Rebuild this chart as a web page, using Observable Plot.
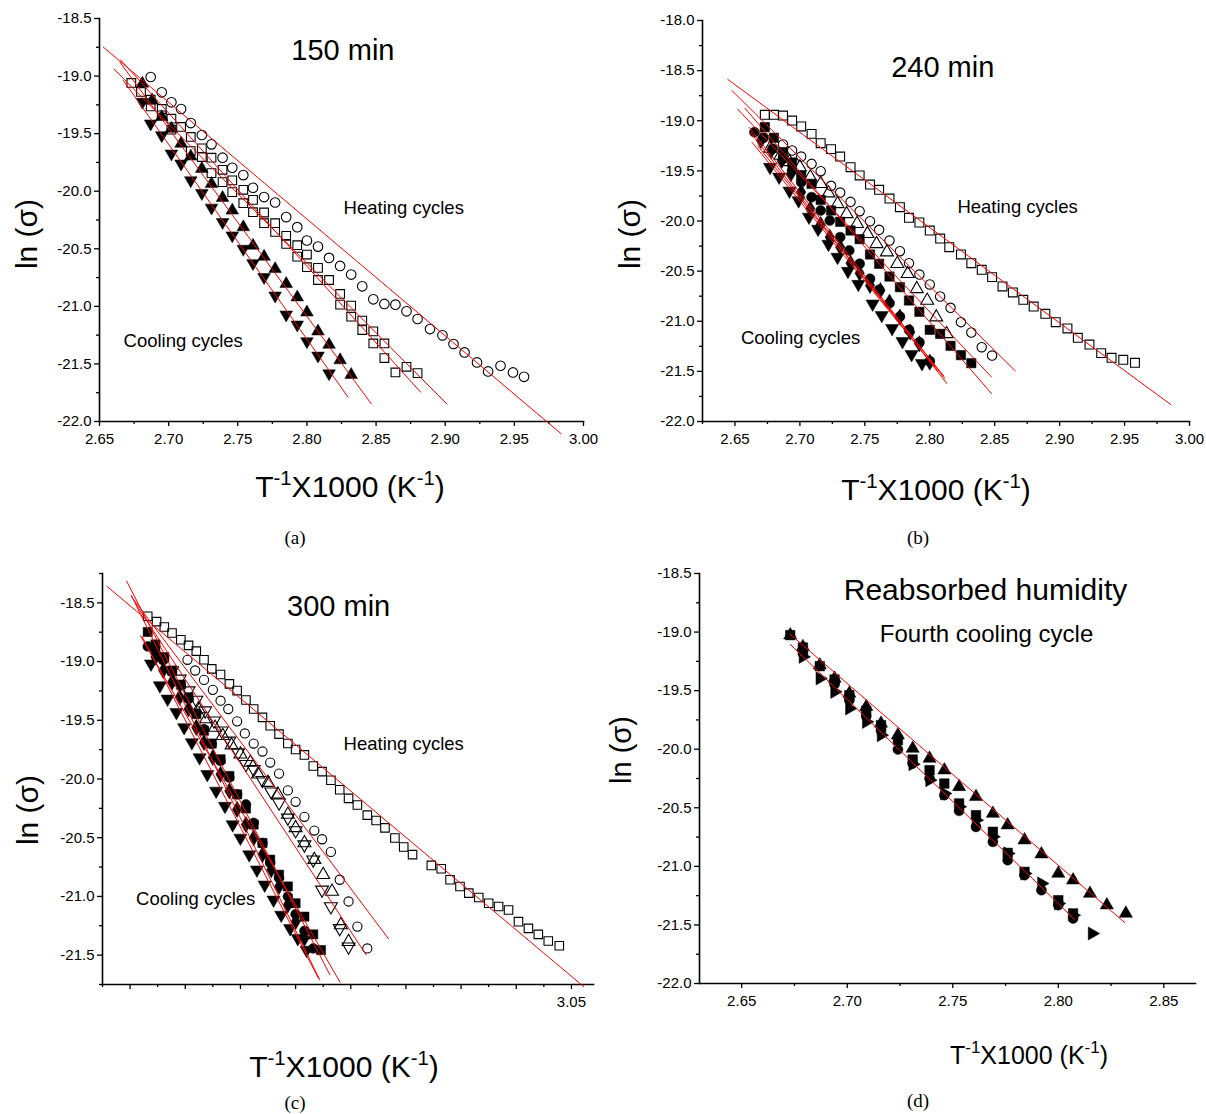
<!DOCTYPE html>
<html><head><meta charset="utf-8">
<script src="https://cdn.jsdelivr.net/npm/d3@7"></script>
<script src="https://cdn.jsdelivr.net/npm/@observablehq/plot@0.6"></script>
<style>
body{margin:0;background:#fff;}
#fig{position:relative;width:1206px;height:1114px;background:#fff;font-family:"Liberation Sans",Arial,sans-serif;color:#000;overflow:hidden;}
.panel{position:absolute;}
.panel svg{max-width:none !important;overflow:visible;}
.xt{position:absolute;transform:translate(-50%,-50%);white-space:nowrap;font-size:30px;line-height:1;}
.xt sup{font-size:0.68em;vertical-align:0.6em;line-height:0;}
.yt{position:absolute;transform:translate(-50%,-50%) rotate(-90deg);white-space:nowrap;font-size:30px;line-height:1;}
.cap{position:absolute;transform:translate(-50%,-50%);font-family:"Liberation Serif","Times New Roman",serif;font-size:19px;line-height:1;}
</style></head>
<body><div id="fig"></div>
<script>
// ---------- Panel (a) 150 min ----------
const aHeatCircle = [[2.687,-19.008],[2.695,-19.141],[2.702,-19.228],[2.709,-19.286],[2.716,-19.408],[2.724,-19.512],[2.731,-19.593],[2.739,-19.709],[2.746,-19.796],[2.754,-19.860],[2.761,-19.970],[2.769,-20.051],[2.777,-20.098],[2.785,-20.225],[2.793,-20.312],[2.800,-20.428],[2.808,-20.481],[2.816,-20.579],[2.824,-20.649],[2.832,-20.724],[2.840,-20.826],[2.848,-20.939],[2.856,-20.979],[2.864,-20.985],[2.872,-21.043],[2.880,-21.110],[2.889,-21.197],[2.898,-21.252],[2.906,-21.327],[2.914,-21.400],[2.923,-21.487],[2.931,-21.565],[2.940,-21.516],[2.949,-21.574],[2.957,-21.612]];
const aHeatSquare1 = [[2.673,-19.060],[2.680,-19.138],[2.687,-19.205],[2.695,-19.286],[2.702,-19.370],[2.709,-19.442],[2.716,-19.529],[2.724,-19.628],[2.731,-19.709],[2.739,-19.814],[2.746,-19.906],[2.754,-19.988],[2.761,-20.075],[2.769,-20.185],[2.777,-20.278],[2.785,-20.388],[2.793,-20.469],[2.800,-20.550],[2.808,-20.666],[2.816,-20.771],[2.824,-20.892],[2.832,-20.994],[2.840,-21.124],[2.848,-21.217],[2.856,-21.322],[2.872,-21.525],[2.880,-21.580]];
const aHeatSquare2 = [[2.687,-19.263],[2.695,-19.341],[2.702,-19.466],[2.716,-19.651],[2.724,-19.703],[2.731,-19.843],[2.739,-19.921],[2.746,-20.008],[2.754,-20.104],[2.761,-20.182],[2.769,-20.278],[2.777,-20.353],[2.785,-20.457],[2.793,-20.568],[2.800,-20.660],[2.808,-20.771],[2.824,-20.985],[2.832,-21.090],[2.840,-21.206],[2.848,-21.322],[2.856,-21.449],[2.864,-21.574]];
const aCoolUp = [[2.681,-19.065],[2.688,-19.210],[2.695,-19.355],[2.702,-19.457],[2.709,-19.587],[2.716,-19.698],[2.724,-19.805],[2.731,-19.935],[2.739,-20.057],[2.746,-20.167],[2.754,-20.312],[2.761,-20.472],[2.769,-20.568],[2.777,-20.675],[2.785,-20.805],[2.793,-20.921],[2.800,-21.052],[2.808,-21.217],[2.816,-21.333],[2.824,-21.467],[2.832,-21.594]];
const aCoolDown = [[2.681,-19.225],[2.687,-19.413],[2.695,-19.515],[2.702,-19.674],[2.709,-19.761],[2.716,-19.906],[2.724,-20.017],[2.731,-20.144],[2.739,-20.269],[2.746,-20.385],[2.754,-20.501],[2.761,-20.626],[2.769,-20.747],[2.777,-20.907],[2.785,-21.072],[2.793,-21.159],[2.800,-21.304],[2.808,-21.429],[2.816,-21.583]];
const aFits = [[2.6525,-18.746,2.9842,-22.110],[2.6601,-18.935,2.9013,-21.849],[2.6651,-18.857,2.8824,-21.748],[2.6646,-18.877,2.8467,-21.849],[2.6671,-19.036,2.8299,-21.791]];
const aNotes = [{x:2.826,y:-18.78,t:"150 min",k:"title"},{x:2.870,y:-20.15,t:"Heating cycles",k:"note"},{x:2.7105,y:-21.30,t:"Cooling cycles",k:"note"}];
const aXMajor = [2.65,2.70,2.75,2.80,2.85,2.90,2.95,3.00];
const aXMinor = [2.675,2.725,2.775,2.825,2.875,2.925,2.975];
const aYMajor = [-18.5,-19.0,-19.5,-20.0,-20.5,-21.0,-21.5,-22.0];
const aYMinor = [-18.75,-19.25,-19.75,-20.25,-20.75,-21.25,-21.75];

// ---------- Panel (b) 240 min ----------
const bHeatSquare = [[2.673,-18.941],[2.680,-18.941],[2.687,-18.948],[2.694,-18.998],[2.701,-19.057],[2.709,-19.131],[2.716,-19.224],[2.724,-19.283],[2.731,-19.357],[2.739,-19.463],[2.746,-19.546],[2.754,-19.636],[2.761,-19.689],[2.769,-19.776],[2.777,-19.862],[2.784,-19.968],[2.792,-20.015],[2.800,-20.095],[2.808,-20.175],[2.815,-20.261],[2.824,-20.334],[2.832,-20.421],[2.840,-20.487],[2.848,-20.560],[2.856,-20.653],[2.864,-20.713],[2.872,-20.786],[2.880,-20.853],[2.889,-20.926],[2.897,-21.009],[2.906,-21.072],[2.914,-21.165],[2.923,-21.232],[2.932,-21.318],[2.940,-21.365],[2.949,-21.385],[2.958,-21.415]];
const bHeatCircle = [[2.687,-19.237],[2.694,-19.297],[2.701,-19.357],[2.709,-19.430],[2.716,-19.503],[2.724,-19.649],[2.731,-19.716],[2.739,-19.809],[2.746,-19.902],[2.754,-20.002],[2.761,-20.088],[2.769,-20.195],[2.777,-20.301],[2.784,-20.421],[2.792,-20.534],[2.800,-20.633],[2.808,-20.753],[2.816,-20.866],[2.824,-21.009],[2.832,-21.112],[2.840,-21.259],[2.848,-21.342]];
const bHeatTriangle = [[2.677,-19.277],[2.685,-19.347],[2.692,-19.410],[2.700,-19.463],[2.708,-19.563],[2.716,-19.629],[2.722,-19.722],[2.729,-19.829],[2.736,-19.929],[2.744,-20.028],[2.752,-20.128],[2.759,-20.228],[2.767,-20.311],[2.775,-20.427],[2.783,-20.527],[2.790,-20.677],[2.798,-20.793],[2.805,-20.959],[2.813,-21.126]];
const bCoolSquare = [[2.673,-19.064],[2.680,-19.170],[2.687,-19.313],[2.694,-19.416],[2.701,-19.549],[2.709,-19.629],[2.716,-19.789],[2.724,-19.895],[2.731,-20.008],[2.739,-20.095],[2.746,-20.181],[2.754,-20.334],[2.761,-20.427],[2.769,-20.554],[2.777,-20.660],[2.784,-20.793],[2.792,-20.906],[2.800,-21.086],[2.808,-21.126],[2.816,-21.245],[2.824,-21.338],[2.832,-21.418]];
const bCoolCircle = [[2.665,-19.114],[2.672,-19.170],[2.679,-19.280],[2.687,-19.380],[2.694,-19.496],[2.701,-19.613],[2.709,-19.762],[2.716,-19.895],[2.723,-19.995],[2.731,-20.161],[2.738,-20.294],[2.746,-20.427],[2.754,-20.577],[2.761,-20.687],[2.769,-20.820],[2.777,-20.953],[2.784,-21.086],[2.792,-21.209],[2.800,-21.398]];
const bCoolDown = [[2.677,-19.463],[2.684,-19.560],[2.692,-19.700],[2.699,-19.796],[2.707,-19.960],[2.714,-20.080],[2.722,-20.230],[2.729,-20.360],[2.737,-20.500],[2.745,-20.630],[2.756,-20.826],[2.763,-20.940],[2.771,-21.070],[2.779,-21.200],[2.786,-21.330],[2.794,-21.420]];
const bCoolDiamond = [[2.670,-19.197],[2.678,-19.297],[2.686,-19.397],[2.693,-19.530],[2.701,-19.712],[2.708,-19.879],[2.716,-20.035],[2.723,-20.161],[2.731,-20.261],[2.739,-20.421],[2.746,-20.520],[2.754,-20.643],[2.762,-20.693],[2.769,-20.810],[2.777,-20.959],[2.785,-21.109],[2.792,-21.225],[2.800,-21.408]];
const bFits = [[2.6442,-18.585,2.9859,-21.834],[2.6476,-18.698,2.8661,-21.498],[2.6518,-18.881,2.8477,-21.558],[2.6574,-18.871,2.8477,-21.724],[2.6608,-19.064,2.8117,-21.574],[2.6617,-19.114,2.8133,-21.624],[2.6673,-19.247,2.8111,-21.551],[2.6631,-19.214,2.8060,-21.491]];
const bNotes = [{x:2.810,y:-18.47,t:"240 min",k:"title"},{x:2.8676,y:-19.865,t:"Heating cycles",k:"note"},{x:2.7005,y:-21.17,t:"Cooling cycles",k:"note"}];
const bXMajor = [2.65,2.70,2.75,2.80,2.85,2.90,2.95,3.00];
const bXMinor = [2.625,2.675,2.725,2.775,2.825,2.875,2.925,2.975];
const bYMajor = [-18.0,-18.5,-19.0,-19.5,-20.0,-20.5,-21.0,-21.5,-22.0];
const bYMinor = [-18.25,-18.75,-19.25,-19.75,-20.25,-20.75,-21.25,-21.75];

// ---------- Panel (c) 300 min ----------
const cHeatSquare = [[2.666,-18.614],[2.674,-18.660],[2.681,-18.705],[2.688,-18.757],[2.696,-18.814],[2.703,-18.862],[2.710,-18.911],[2.717,-18.985],[2.724,-19.062],[2.732,-19.110],[2.740,-19.190],[2.747,-19.247],[2.755,-19.327],[2.762,-19.404],[2.770,-19.475],[2.777,-19.546],[2.785,-19.618],[2.793,-19.698],[2.800,-19.749],[2.808,-19.795],[2.816,-19.889],[2.824,-19.937],[2.832,-20.011],[2.840,-20.091],[2.848,-20.165],[2.856,-20.222],[2.865,-20.308],[2.873,-20.353],[2.881,-20.416],[2.890,-20.502],[2.898,-20.579],[2.906,-20.644],[2.923,-20.736],[2.932,-20.764],[2.940,-20.858],[2.949,-20.915],[2.957,-20.972],[2.966,-21.009],[2.975,-21.058],[2.984,-21.086],[2.993,-21.115],[3.002,-21.215],[3.011,-21.272],[3.020,-21.323],[3.029,-21.380],[3.039,-21.420]];
const cHeatCircle = [[2.702,-18.985],[2.709,-19.076],[2.717,-19.156],[2.725,-19.241],[2.732,-19.333],[2.739,-19.404],[2.747,-19.509],[2.754,-19.612],[2.762,-19.698],[2.770,-19.766],[2.777,-19.860],[2.785,-19.954],[2.793,-20.097],[2.800,-20.194],[2.808,-20.322],[2.817,-20.439],[2.824,-20.513],[2.832,-20.621],[2.840,-20.858],[2.848,-21.043],[2.856,-21.257],[2.865,-21.443]];
const cHeatDown = [[2.688,-19.076],[2.695,-19.147],[2.703,-19.247],[2.710,-19.327],[2.718,-19.418],[2.726,-19.504],[2.733,-19.589],[2.740,-19.675],[2.748,-19.775],[2.755,-19.874],[2.762,-19.917],[2.770,-20.011],[2.778,-20.108],[2.785,-20.202],[2.793,-20.331],[2.800,-20.439],[2.808,-20.559],[2.816,-20.687],[2.824,-20.944],[2.832,-21.086],[2.840,-21.272],[2.848,-21.428]];
const cHeatUp = [[2.712,-19.404],[2.719,-19.489],[2.727,-19.561],[2.734,-19.632],[2.742,-19.712],[2.750,-19.789],[2.759,-19.860],[2.766,-19.960],[2.775,-20.031],[2.784,-20.131],[2.793,-20.302],[2.800,-20.416],[2.808,-20.545],[2.817,-20.687],[2.825,-20.815],[2.833,-20.958],[2.841,-21.243],[2.848,-21.386]];
const cCoolSquare = [[2.666,-18.748],[2.673,-18.854],[2.681,-18.962],[2.688,-19.076],[2.696,-19.196],[2.703,-19.304],[2.710,-19.447],[2.717,-19.589],[2.724,-19.698],[2.732,-19.832],[2.740,-19.974],[2.747,-20.131],[2.755,-20.251],[2.762,-20.388],[2.770,-20.545],[2.777,-20.687],[2.785,-20.815],[2.793,-20.915],[2.800,-21.058],[2.808,-21.172],[2.816,-21.323],[2.823,-21.457]];
const cCoolCircle = [[2.666,-18.871],[2.673,-18.919],[2.680,-18.990],[2.688,-19.090],[2.696,-19.204],[2.703,-19.318],[2.710,-19.441],[2.717,-19.575],[2.724,-19.703],[2.732,-19.846],[2.740,-19.988],[2.747,-20.131],[2.755,-20.217],[2.762,-20.373],[2.770,-20.545],[2.777,-20.716],[2.785,-20.844],[2.793,-21.001],[2.800,-21.152],[2.808,-21.294],[2.816,-21.443]];
const cCoolDown = [[2.669,-19.019],[2.677,-19.204],[2.684,-19.318],[2.692,-19.432],[2.699,-19.561],[2.706,-19.689],[2.713,-19.817],[2.720,-19.960],[2.728,-20.102],[2.736,-20.231],[2.743,-20.388],[2.750,-20.502],[2.758,-20.644],[2.765,-20.773],[2.772,-20.901],[2.780,-21.029],[2.787,-21.158],[2.795,-21.272],[2.802,-21.357],[2.810,-21.457]];
const cCoolDiamond = [[2.673,-18.962],[2.680,-19.076],[2.688,-19.176],[2.695,-19.304],[2.703,-19.404],[2.710,-19.561],[2.717,-19.689],[2.725,-19.817],[2.732,-19.960],[2.740,-20.102],[2.747,-20.259],[2.755,-20.388],[2.762,-20.502],[2.770,-20.644],[2.778,-20.773],[2.785,-20.915],[2.793,-21.072],[2.800,-21.215],[2.808,-21.357]];
const cFits = [[2.6287,-18.357,3.0615,-21.771],[2.6510,-18.443,2.8844,-21.363],[2.6549,-18.506,2.8641,-21.500],[2.6592,-18.777,2.8405,-21.734],[2.6467,-18.312,2.8313,-21.671],[2.6510,-18.434,2.8221,-21.714],[2.6608,-18.785,2.8208,-21.699]];
const cNotes = [{x:2.839,y:-18.53,t:"300 min",k:"title"},{x:2.898,y:-19.70,t:"Heating cycles",k:"note"},{x:2.7095,y:-21.02,t:"Cooling cycles",k:"note"}];
const cXMajor = [2.65,2.70,2.75,2.80,2.85,2.90,2.95,3.00,3.05];
const cXMinor = [2.625,2.675,2.725,2.775,2.825,2.875,2.925,2.975,3.025];
const cXLabelled = [3.05];
const cYMajor = [-18.5,-19.0,-19.5,-20.0,-20.5,-21.0,-21.5];
const cYMinor = [-18.25,-18.75,-19.25,-19.75,-20.25,-20.75,-21.25,-21.75];

// ---------- Panel (d) reabsorbed humidity ----------
const dUp = [[2.673,-19.026],[2.679,-19.126],[2.687,-19.283],[2.694,-19.396],[2.701,-19.524],[2.709,-19.638],[2.716,-19.780],[2.724,-19.880],[2.731,-19.994],[2.739,-20.079],[2.746,-20.179],[2.753,-20.321],[2.761,-20.406],[2.769,-20.549],[2.776,-20.648],[2.784,-20.776],[2.792,-20.896],[2.800,-21.061],[2.807,-21.118],[2.815,-21.232],[2.823,-21.331],[2.832,-21.402]];
const dSquare = [[2.673,-19.026],[2.679,-19.132],[2.687,-19.291],[2.694,-19.405],[2.701,-19.539],[2.709,-19.672],[2.716,-19.795],[2.724,-19.923],[2.731,-20.088],[2.739,-20.179],[2.746,-20.293],[2.753,-20.463],[2.761,-20.563],[2.769,-20.705],[2.776,-20.885],[2.784,-21.047],[2.800,-21.289],[2.807,-21.402]];
const dCircle = [[2.679,-19.183],[2.694,-19.445],[2.701,-19.581],[2.709,-19.718],[2.716,-19.843],[2.724,-20.002],[2.731,-20.122],[2.739,-20.250],[2.746,-20.392],[2.753,-20.526],[2.761,-20.663],[2.769,-20.791],[2.776,-20.947],[2.784,-21.075],[2.792,-21.203],[2.800,-21.331],[2.807,-21.445]];
const dRight = [[2.679,-19.211],[2.687,-19.396],[2.694,-19.510],[2.701,-19.652],[2.709,-19.766],[2.716,-19.880],[2.731,-20.128],[2.739,-20.264],[2.746,-20.378],[2.753,-20.492],[2.761,-20.606],[2.769,-20.748],[2.776,-20.890],[2.784,-21.061],[2.792,-21.146],[2.800,-21.317],[2.807,-21.417],[2.816,-21.573]];
const dFits = [[2.6729,-19.018,2.8316,-21.482],[2.6729,-19.103,2.8078,-21.454]];
const dNotes = [{x:2.7655,y:-18.64,t:"Reabsorbed humidity",k:"big"},{x:2.766,y:-19.02,t:"Fourth cooling cycle",k:"sub"}];
const dXMajor = [2.65,2.70,2.75,2.80,2.85];
const dXMinor = [2.675,2.725,2.775,2.825];
const dYMajor = [-18.5,-19.0,-19.5,-20.0,-20.5,-21.0,-21.5,-22.0];
const dYMinor = [-18.75,-19.25,-19.75,-20.25,-20.75,-21.25,-21.75];

// ---------- symbols ----------
const S3 = Math.sqrt(3);
const triDown = {draw(ctx, size){const y=-Math.sqrt(size/(S3*3)); ctx.moveTo(0,-2*y); ctx.lineTo(-S3*y,y); ctx.lineTo(S3*y,y); ctx.closePath();}};
const triRight = {draw(ctx, size){const y=-Math.sqrt(size/(S3*3)); ctx.moveTo(-2*y,0); ctx.lineTo(y,-S3*y); ctx.lineTo(y,S3*y); ctx.closePath();}};

const noteSize = {title: 29, note: 18.5, big: 30, sub: 24};

function panel(c) {
  const marks = [
    Plot.axisX(c.xMinor, {tickSize: 3, tickFormat: () => "", label: null, strokeWidth: 1.3}),
    Plot.axisX(c.xMajor, {tickSize: 5, tickPadding: 7, fontSize: 15, label: null, strokeWidth: 1.3,
      tickFormat: d => (!c.xLabelled || c.xLabelled.some(v => Math.abs(v - d) < 1e-9)) ? d.toFixed(2) : ""}),
    Plot.axisY(c.yMinor, {tickSize: 3, tickFormat: () => "", label: null, strokeWidth: 1.3}),
    Plot.axisY(c.yMajor, {tickSize: 5, tickPadding: 3, fontSize: 15, label: null, strokeWidth: 1.3, tickFormat: d => d.toFixed(1)}),
    Plot.frame({anchor: "left", strokeWidth: 1.6}),
    Plot.frame({anchor: "bottom", strokeWidth: 1.6})
  ];
  for (const s of c.series) {
    marks.push(Plot.dot(s.data, {x: d => d[0], y: d => d[1], symbol: s.symbol, r: s.r,
      fill: s.filled ? "black" : "none", stroke: "black", strokeWidth: s.filled ? 0.5 : 1.1}));
  }
  marks.push(Plot.link(c.fits, {x1: d => d[0], y1: d => d[1], x2: d => d[2], y2: d => d[3], stroke: "#ff0000", strokeWidth: 1}));
  marks.push(Plot.text(c.notes, {x: "x", y: "y", text: "t", fontSize: d => noteSize[d.k], fill: "black"}));
  const svg = Plot.plot({
    width: c.W, height: c.H,
    marginLeft: c.ml, marginRight: c.mr, marginTop: c.mt, marginBottom: c.mb,
    x: {domain: c.xDomain}, y: {domain: c.yDomain},
    style: {fontFamily: "'Liberation Sans', Arial, sans-serif", fontSize: "15px", color: "black", background: "transparent", overflow: "visible", maxWidth: "none"},
    marks
  });
  const div = document.createElement("div");
  div.className = "panel";
  div.style.left = c.left + "px"; div.style.top = c.top + "px";
  div.style.width = c.W + "px"; div.style.height = c.H + "px";
  div.appendChild(svg);
  document.getElementById("fig").appendChild(div);
}

panel({left: 0, top: 0, W: 600, H: 470, ml: 99, mr: 17, mt: 18, mb: 49,
  xDomain: [2.65, 3.00], yDomain: [-22.0, -18.5],
  xMajor: aXMajor, xMinor: aXMinor, yMajor: aYMajor, yMinor: aYMinor,
  series: [
    {data: aHeatCircle, symbol: "circle", r: 4.8, filled: false},
    {data: aHeatSquare1, symbol: "square", r: 4.9, filled: false},
    {data: aHeatSquare2, symbol: "square", r: 4.9, filled: false},
    {data: aCoolUp, symbol: "triangle", r: 4.7, filled: true},
    {data: aCoolDown, symbol: triDown, r: 4.7, filled: true}
  ], fits: aFits, notes: aNotes});

panel({left: 600, top: 0, W: 606, H: 470, ml: 102, mr: 17, mt: 20, mb: 49,
  xDomain: [2.625, 3.00], yDomain: [-22.0, -18.0],
  xMajor: bXMajor, xMinor: bXMinor, yMajor: bYMajor, yMinor: bYMinor,
  series: [
    {data: bHeatSquare, symbol: "square", r: 5.0, filled: false},
    {data: bHeatCircle, symbol: "circle", r: 4.7, filled: false},
    {data: bHeatTriangle, symbol: "triangle", r: 4.8, filled: false},
    {data: bCoolSquare, symbol: "square", r: 5.3, filled: true},
    {data: bCoolCircle, symbol: "circle", r: 5.0, filled: true},
    {data: bCoolDown, symbol: triDown, r: 4.9, filled: true},
    {data: bCoolDiamond, symbol: "diamond", r: 4.9, filled: true}
  ], fits: bFits, notes: bNotes});

panel({left: 0, top: 557, W: 600, H: 470, ml: 102, mr: 7, mt: 16, mb: 43,
  xDomain: [2.625, 3.07], yDomain: [-21.75, -18.25],
  xMajor: cXMajor, xMinor: cXMinor, xLabelled: cXLabelled, yMajor: cYMajor, yMinor: cYMinor,
  series: [
    {data: cHeatSquare, symbol: "square", r: 4.8, filled: false},
    {data: cHeatCircle, symbol: "circle", r: 4.6, filled: false},
    {data: cHeatDown, symbol: triDown, r: 4.8, filled: false},
    {data: cHeatUp, symbol: "triangle", r: 4.8, filled: false},
    {data: cCoolSquare, symbol: "square", r: 5.2, filled: true},
    {data: cCoolCircle, symbol: "circle", r: 4.9, filled: true},
    {data: cCoolDown, symbol: triDown, r: 4.9, filled: true},
    {data: cCoolDiamond, symbol: "diamond", r: 4.9, filled: true}
  ], fits: cFits, notes: cNotes});

panel({left: 600, top: 557, W: 606, H: 470, ml: 99, mr: 11, mt: 16, mb: 44,
  xDomain: [2.63, 2.865], yDomain: [-22.0, -18.5],
  xMajor: dXMajor, xMinor: dXMinor, yMajor: dYMajor, yMinor: dYMinor,
  series: [
    {data: dUp, symbol: "triangle", r: 4.9, filled: true},
    {data: dSquare, symbol: "square", r: 5.4, filled: true},
    {data: dCircle, symbol: "circle", r: 5.0, filled: true},
    {data: dRight, symbol: triRight, r: 4.9, filled: true}
  ], fits: dFits, notes: dNotes});

// ---------- axis titles and captions ----------
const xTitle = 'T<sup>-1</sup>X1000 (K<sup>-1</sup>)';
const yTitle = 'ln (σ)';
const texts = [
  {cls: "xt", html: xTitle, x: 350, y: 487, size: 30},
  {cls: "xt", html: xTitle, x: 936, y: 490, size: 30},
  {cls: "xt", html: xTitle, x: 344, y: 1067, size: 30},
  {cls: "xt", html: xTitle, x: 1029, y: 1055, size: 25},
  {cls: "yt", html: yTitle, x: 27, y: 234, size: 30},
  {cls: "yt", html: yTitle, x: 630, y: 234, size: 30},
  {cls: "yt", html: yTitle, x: 28, y: 810, size: 30},
  {cls: "yt", html: yTitle, x: 621, y: 750, size: 29},
  {cls: "cap", html: "(a)", x: 295, y: 537, size: 19},
  {cls: "cap", html: "(b)", x: 918, y: 537, size: 19},
  {cls: "cap", html: "(c)", x: 295, y: 1102, size: 19},
  {cls: "cap", html: "(d)", x: 918, y: 1100, size: 19}
];
for (const t of texts) {
  const el = document.createElement("div");
  el.className = t.cls;
  el.innerHTML = t.html;
  el.style.left = t.x + "px"; el.style.top = t.y + "px"; el.style.fontSize = t.size + "px";
  document.getElementById("fig").appendChild(el);
}
</script>
</body></html>
